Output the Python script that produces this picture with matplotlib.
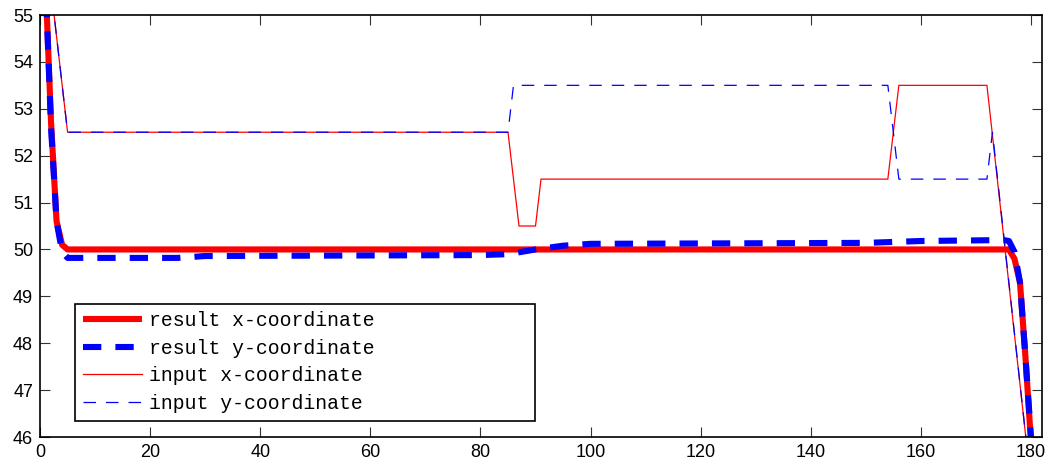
import matplotlib
matplotlib.use("Agg")
import matplotlib.pyplot as plt

# result trajectory (thick lines)
res_t = [1, 2, 3, 4, 5, 176, 177, 178, 179, 180, 181]
res_x = [55.7, 52.7, 50.6, 50.1, 50.0, 50.0, 49.8, 49.3, 47.7, 45.9, 44.0]

res_ty = [1, 2, 3, 4, 5, 25, 30, 80, 85, 90, 95, 100, 150, 155, 160, 175, 176, 177, 178, 179, 180, 181]
res_y = [55.7, 52.6, 50.6, 49.95, 49.82, 49.82, 49.86, 49.88, 49.9, 50.0, 50.08, 50.12,
         50.14, 50.16, 50.18, 50.2, 50.18, 49.95, 49.3, 47.7, 46.0, 44.0]

# input trajectory (thin lines)
in_tx = [0, 5, 85, 87, 90, 91, 154, 156, 172, 180]
in_x = [57.6, 52.5, 52.5, 50.5, 50.5, 51.5, 51.5, 53.5, 53.5, 45.0]

in_ty = [0, 5, 85, 86, 154, 156, 172, 173, 180]
in_y = [57.6, 52.5, 52.5, 53.5, 53.5, 51.5, 51.5, 52.5, 45.0]

labels = ["result x-coordinate", "result y-coordinate",
          "input x-coordinate", "input y-coordinate"]

fig = plt.figure(figsize=(10.54, 4.66), dpi=100)
ax = fig.add_axes([0.038, 0.0622, 0.9506, 0.9056])

ax.plot(res_t, res_x, color="red", lw=4.4, label=labels[0], solid_capstyle="butt")
ax.plot(res_ty, res_y, color="blue", lw=4.4, dashes=(3.0, 2.3), label=labels[1])
ax.plot(in_tx, in_x, color="red", lw=0.9, label=labels[2])
ax.plot(in_ty, in_y, color="blue", lw=0.9, dashes=(10, 8), label=labels[3])

ax.set_xlim(0, 182)
ax.set_ylim(46, 55)
ax.set_xticks(range(0, 181, 20))
ax.set_yticks(range(46, 56))

for sp in ax.spines.values():
    sp.set_linewidth(1.2)
ax.tick_params(direction="in", length=7, width=0.8, top=True, right=True,
               labelsize=13, color="#333333", pad=5)
for lbl in ax.get_xticklabels() + ax.get_yticklabels():
    lbl.set_fontfamily("Liberation Sans")

leg = ax.legend(loc="lower left", bbox_to_anchor=(0.035, 0.0386, 0.459, 0.28),
                mode="expand", borderaxespad=0, fancybox=False, framealpha=1,
                edgecolor="black", handlelength=3.0, handletextpad=0.35,
                labelspacing=0.43, borderpad=0.4,
                prop={"family": "Liberation Mono", "size": 14.2})
leg.get_frame().set_linewidth(1.2)

fig.savefig("out.png", dpi=100)
